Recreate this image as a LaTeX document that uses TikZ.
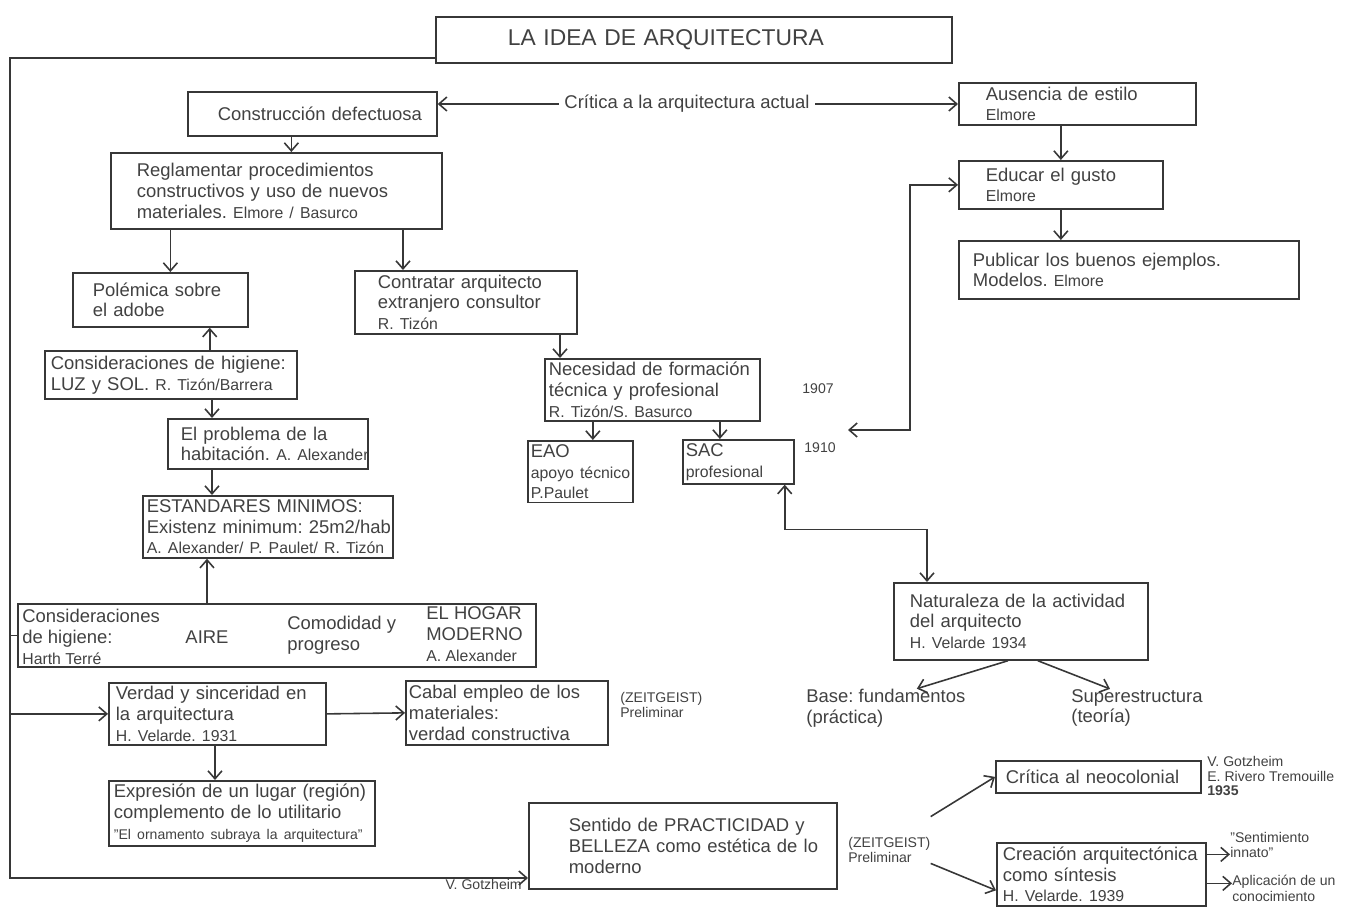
\documentclass[tikz,border=0pt]{standalone}
\usepackage{fontspec}
\setmainfont{Liberation Sans}
\usetikzlibrary{arrows.meta, calc, positioning}
\definecolor{linea}{RGB}{55,55,55}
\definecolor{texto}{RGB}{65,65,65}
\frenchspacing

\begin{document}
\begin{tikzpicture}[x=0.02cm, y=-0.02cm,
    caja/.style={draw=linea, line width=1pt, anchor=north west, align=left, inner ysep=2pt, text=texto,
      font=\fontsize{10.5}{11.8}\selectfont,
      execute at begin node={\rightskip=0pt plus 1fil minus 4cm}},
    libre/.style={align=left, inner sep=0pt, text=texto, font=\fontsize{10.5}{11.8}\selectfont},
    nota/.style={align=left, inner sep=0pt, text=texto, font=\fontsize{8}{9}\selectfont},
    flecha/.style={draw=linea, line width=0.9pt, -{Straight Barb[length=1.6mm, width=2.8mm]}},
    flechas/.style={draw=linea, line width=0.9pt, {Straight Barb[length=1.6mm, width=2.8mm]}-{Straight Barb[length=1.6mm, width=2.8mm]}}]
    \useasboundingbox (0,0) rectangle (1352,908);

    % cabecera
    \node[caja, font=\fontsize{13}{15}\selectfont, minimum width=10.32cm, minimum height=0.92cm, text width=7.44cm, inner xsep=1.44cm] (titulo) at (435,16) {LA IDEA DE ARQUITECTURA};
    \node[libre, inner xsep=3pt] (critica) at (687,104) {Crítica a la arquitectura actual};

    % rama izquierda
    \node[caja, minimum width=4.98cm, minimum height=0.88cm, text width=3.78cm, inner xsep=0.6cm] (constr) at (187,91) {Construcción defectuosa};
    \node[caja, minimum width=6.62cm, minimum height=1.52cm, text width=5.58cm, inner xsep=0.52cm] (reglam) at (110,152) {Reglamentar procedimientos\\constructivos y uso de nuevos\\materiales. {\small Elmore / Basurco}};
    \node[caja, minimum width=3.5cm, minimum height=1.08cm, text width=2.7cm, inner xsep=0.4cm] (polemica) at (72,272) {Polémica sobre\\el adobe};
    \node[caja, minimum width=5.04cm, minimum height=0.96cm, text width=4.8cm, inner xsep=0.12cm] (higiene) at (44,350) {Consideraciones de higiene:\\LUZ y SOL. {\small R. Tizón/Barrera}};
    \node[caja, minimum width=4cm, minimum height=1cm, text width=3.48cm, inner xsep=0.26cm] (problema) at (167,418) {El problema de la\\habitación. {\small A. Alexander}};
    \node[caja, minimum width=5cm, minimum height=1.24cm, text width=4.84cm, inner xsep=0.08cm] (estand) at (142,495) {ESTANDARES MINIMOS:\\Existenz minimum: 25m2/hab\\{\small A. Alexander/ P. Paulet/ R. Tizón}};
    \node[caja, minimum width=10.36cm, minimum height=1.26cm] (hogar) at (17,603) {};
    \node[libre, anchor=west] (higaire) at (22,637) {Consideraciones\\de higiene:\\{\small Harth Terré}};
    \node[libre] (aire) at (207,637) {AIRE};
    \node[libre, anchor=west] (comod) at (287,635) {Comodidad y\\progreso};
    \node[libre, anchor=west] (moderno) at (426,634) {EL HOGAR\\MODERNO\\{\small A. Alexander}};

    % rama central
    \node[caja, minimum width=4.44cm, minimum height=1.26cm, text width=3.52cm, inner xsep=0.46cm] (contratar) at (354,270) {Contratar arquitecto\\extranjero consultor\\{\small R. Tizón}};
    \node[caja, minimum width=4.3cm, minimum height=1.18cm, text width=4.14cm, inner xsep=0.08cm] (necesidad) at (544,358) {Necesidad de formación\\técnica y profesional\\{\small R. Tizón/S. Basurco}};
    \node[caja, minimum width=2.1cm, minimum height=1.08cm, text width=1.98cm, inner xsep=0.06cm] (eao) at (527,440) {EAO\\{\small apoyo técnico}\\{\small P.Paulet}};
    \node[caja, minimum width=2.22cm, minimum height=0.78cm, text width=2.1cm, inner xsep=0.06cm] (sac) at (682,439) {SAC\\{\small profesional}};
    \node[nota] (y1907) at (818,389) {1907};
    \node[nota] (y1910) at (820,448) {1910};
    \coordinate (p1910) at (848,430);

    % rama derecha
    \node[caja, minimum width=4.74cm, minimum height=0.84cm, text width=3.66cm, inner xsep=0.54cm] (ausencia) at (958,82) {Ausencia de estilo\\{\small Elmore}};
    \node[caja, minimum width=4.08cm, minimum height=0.96cm, text width=3cm, inner xsep=0.54cm] (educar) at (958,160) {Educar el gusto\\{\small Elmore}};
    \node[caja, minimum width=6.8cm, minimum height=1.16cm, text width=6.24cm, inner xsep=0.28cm] (publicar) at (958,240) {Publicar los buenos ejemplos.\\Modelos. {\small Elmore}};
    \node[caja, minimum width=5.08cm, minimum height=1.54cm, text width=4.44cm, inner xsep=0.32cm] (naturaleza) at (893,582) {Naturaleza de la actividad\\del arquitecto\\{\small H. Velarde 1934}};
    \node[libre, anchor=west] (base) at (806,708) {Base: fundamentos\\(práctica)};
    \node[libre, anchor=west] (superest) at (1071,708) {Superestructura\\(teoría)};

    % parte baja
    \node[caja, minimum width=4.34cm, minimum height=1.2cm, text width=4.06cm, inner xsep=0.14cm] (verdad) at (108,682) {Verdad y sinceridad en\\la arquitectura\\{\small H. Velarde. 1931}};
    \node[caja, minimum width=4.04cm, minimum height=1.28cm, text width=3.92cm, inner xsep=0.06cm] (cabal) at (405,680) {Cabal empleo de los\\materiales:\\verdad constructiva};
    \node[nota, anchor=west] (zeit1) at (620,705) {(ZEITGEIST)\\Preliminar};
    \node[caja, minimum width=5.32cm, minimum height=1.26cm, text width=5.12cm, inner xsep=0.1cm] (expresion) at (108,780) {Expresión de un lugar (región)\\complemento de lo utilitario\\{\footnotesize "El ornamento subraya la arquitectura"}};
    \node[caja, minimum width=6.16cm, minimum height=1.72cm, text width=4.56cm, inner xsep=0.8cm] (sentido) at (528,802) {Sentido de PRACTICIDAD y\\BELLEZA como estética de lo\\moderno};
    \node[nota, anchor=east] (gotz) at (522,884) {V. Gotzheim};
    \node[nota, anchor=west] (zeit2) at (848,850) {(ZEITGEIST)\\Preliminar};
    \node[caja, align=center, minimum width=4.1cm, minimum height=0.64cm, text width=3.7cm, inner xsep=0.2cm] (neocol) at (995,760) {Crítica al neocolonial};
    \node[nota, anchor=west, font=\fontsize{8}{8.2}\selectfont] (neolab) at (1207,776) {V. Gotzheim\\E. Rivero Tremouille\\{\bfseries 1935}};
    \node[caja, minimum width=4.18cm, minimum height=1.26cm, text width=3.94cm, inner xsep=0.12cm] (creacion) at (996,842) {Creación arquitectónica\\como síntesis\\{\small H. Velarde. 1939}};
    \node[nota, anchor=west] (sentim) at (1230,845) {"Sentimiento\\innato"};
    \node[nota, anchor=west] (aplic) at (1232,888) {Aplicación de un\\conocimiento};

    % conectores
    \draw[flecha] (critica.west) -- (critica.west -| constr.east);
    \draw[flecha] (critica.east) -- (critica.east -| ausencia.west);
    \draw[flecha] ([xshift=-0.42cm]constr.south) -- ([xshift=-0.42cm]constr.south |- reglam.north);
    \draw[flecha] ([xshift=0.2cm]reglam.south -| polemica.north) -- ([xshift=0.2cm]polemica.north);
    \draw[flecha] ([xshift=0.98cm]reglam.south -| contratar.north west) -- ([xshift=0.98cm]contratar.north west);
    \draw[flecha] ([xshift=-0.78cm]higiene.north -| polemica.south east) -- ([xshift=-0.78cm]polemica.south east);
    \draw[flecha] ([xshift=0.9cm]higiene.south -| problema.north west) -- ([xshift=0.9cm]problema.north west);
    \draw[flecha] ([xshift=1.4cm]problema.south -| estand.north west) -- ([xshift=1.4cm]estand.north west);
    \draw[flecha] ([xshift=1.3cm]hogar.north -| estand.south west) -- ([xshift=1.3cm]estand.south west);
    \draw[flecha] ([xshift=0.32cm]contratar.south -| necesidad.north west) -- ([xshift=0.32cm]necesidad.north west);
    \draw[flecha] ([xshift=0.25cm]necesidad.south -| eao.north) -- ([xshift=0.25cm]eao.north);
    \draw[flecha] ([xshift=-0.37cm]necesidad.south -| sac.north) -- ([xshift=-0.37cm]sac.north);
    \draw[flechas] ([xshift=-0.2cm]sac.south east) -- ++(0,45) -| ([xshift=0.68cm]naturaleza.north west);
    \draw[flecha] (ausencia.south -| educar.north) -- (educar.north);
    \draw[flecha] (educar.south) -- (educar.south |- publicar.north);
    \draw[flechas] (p1910) -| ([xshift=-0.96cm]educar.west) -- (educar.west);
    \draw[flecha] ([xshift=-0.26cm]naturaleza.south) -- ([xshift=0.62cm]base.north);
    \draw[flecha] ([xshift=0.34cm]naturaleza.south) -- ([xshift=-0.54cm]superest.north);

    \coordinate (rail) at (10,878);
    \draw[flecha] ([yshift=-0.36cm]titulo.west) -| (rail) -- (rail -| sentido.west);
    \draw[flecha] (rail |- verdad.west) -- (verdad.west);
    \draw[draw=linea, line width=0.9pt] (rail |- hogar.west) -- (hogar.west);
    \draw[flecha] (verdad.east) -- (cabal.west);
    \draw[flecha] ([xshift=2.14cm]verdad.south west) -- ([xshift=2.14cm]verdad.south west |- expresion.north);
    \draw[flecha] ([yshift=0.4cm]zeit2.north east) -- (neocol.west);
    \draw[flecha] (zeit2.south east) -- ([yshift=-0.32cm]creacion.west);
    \draw[flecha] ([yshift=0.4cm]creacion.east) -- ([yshift=0.4cm]creacion.east -| sentim.west);
    \draw[flecha] ([yshift=-0.18cm]creacion.east) -- ([yshift=-0.18cm]creacion.east -| aplic.west);
\end{tikzpicture}
\end{document}
